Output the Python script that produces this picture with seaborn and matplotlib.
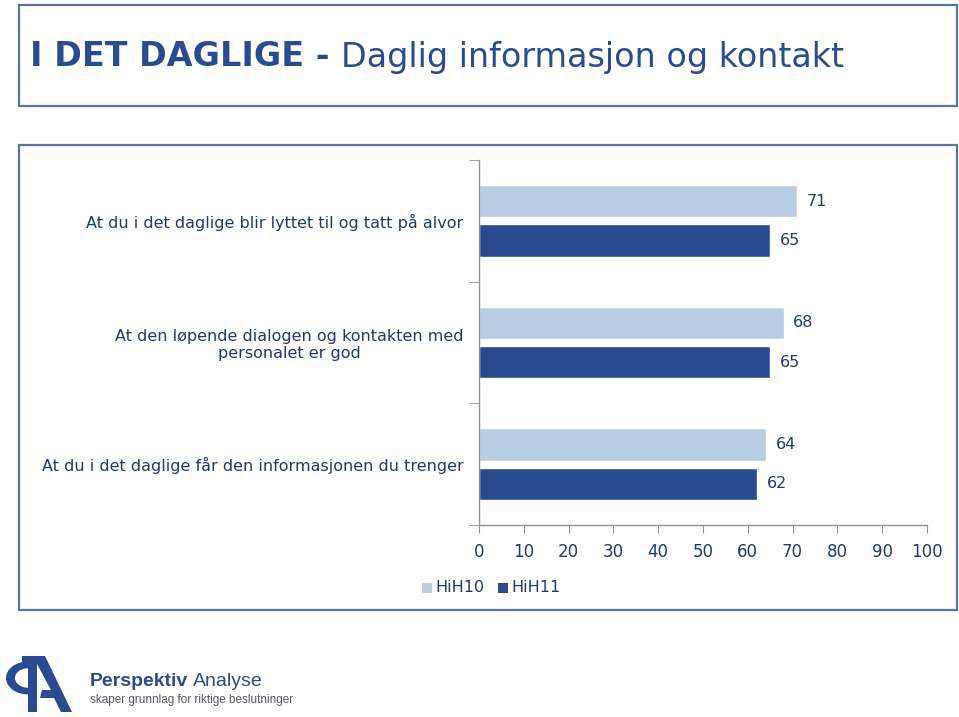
import matplotlib
matplotlib.use("Agg")
import matplotlib.pyplot as plt
import seaborn as sns
import pandas as pd
from matplotlib.patches import Rectangle, Polygon, Wedge

# data
questions = [
    "At du i det daglige blir lyttet til og tatt på alvor",
    "At den løpende dialogen og kontakten med\npersonalet er god",
    "At du i det daglige får den informasjonen du trenger",
]
hih10 = [71, 68, 64]
hih11 = [65, 65, 62]
series = ["HiH10", "HiH11"]
xticks = [0, 10, 20, 30, 40, 50, 60, 70, 80, 90, 100]

df = pd.DataFrame({
    "spm": questions * 2,
    "verdi": hih10 + hih11,
    "serie": [series[0]] * 3 + [series[1]] * 3,
})

light = "#B9CDE5"
dark = "#2A4B8F"
navy = "#1F3A6E"
border = "#5B74A3"
grey = "#8A939E"

sns.set_style("white")
plt.rcParams["font.family"] = ["DejaVu Sans"]

fig = plt.figure(figsize=(9.59, 7.17), dpi=100)
W, H = 959, 717

def fx(x):
    return x / W

def fy(y):
    return 1 - y / H

def box(x0, y0, x1, y1):
    fig.patches.append(Rectangle((fx(x0), fy(y1)), (x1 - x0) / W, (y1 - y0) / H,
                                 transform=fig.transFigure, fill=False,
                                 edgecolor=border, lw=1.6))

box(19, 5, 957, 106)
box(19, 145, 957, 610)

# title
t1 = fig.text(fx(30), fy(57), "I DET DAGLIGE - ", fontsize=24, fontweight="bold",
              color=dark, va="center", ha="left")
fig.canvas.draw()
bb = t1.get_window_extent()
fig.text(bb.x1 / W, fy(57), "Daglig informasjon og kontakt", fontsize=24,
         color=dark, va="center", ha="left")

ax = fig.add_axes([fx(479), fy(525), 448 / W, 365 / H])
sns.barplot(data=df, y="spm", x="verdi", hue="serie", orient="h",
            palette=[light, dark], width=0.65, gap=0.18, ax=ax,
            legend=False, saturation=1)

for cont in ax.containers:
    ax.bar_label(cont, padding=7, fontsize=11.5, color=navy)

ax.set_xlim(0, 100)
ax.set_ylim(2.5, -0.5)
ax.set_xticks(xticks)
ax.set_xlabel("")
ax.set_ylabel("")
ax.set_yticks([-0.5, 0.5, 1.5, 2.5], minor=True)
ax.tick_params(axis="y", which="major", length=0, pad=11, labelsize=11.5, labelcolor=navy)
ax.tick_params(axis="y", which="minor", length=7, color=grey, direction="out", left=True)
ax.tick_params(axis="x", length=6, color=grey, direction="out", bottom=True,
               pad=7, labelsize=12, labelcolor=navy)
for lab in ax.get_yticklabels():
    lab.set_multialignment("center")
for s in ["top", "right"]:
    ax.spines[s].set_visible(False)
for s in ["left", "bottom"]:
    ax.spines[s].set_color(grey)
    ax.spines[s].set_linewidth(1)

# legend
fig.patches.append(Rectangle((fx(422), fy(593)), 10 / W, 10 / H, transform=fig.transFigure,
                             facecolor=light, edgecolor="none"))
fig.text(fx(435), fy(588), series[0], fontsize=11.5, color=navy, va="center")
fig.patches.append(Rectangle((fx(498), fy(593)), 10 / W, 10 / H, transform=fig.transFigure,
                             facecolor=dark, edgecolor="none"))
fig.text(fx(511), fy(588), series[1], fontsize=11.5, color=navy, va="center")

# logo
logo = "#2A4B8F"
fig.patches.append(Wedge((fx(28), fy(678)), 22 / W, 90, 270, width=9 / W,
                         transform=fig.transFigure, facecolor=logo, edgecolor="none"))
fig.patches.append(Rectangle((fx(28), fy(712)), 9 / W, 56 / H, transform=fig.transFigure,
                             facecolor=logo, edgecolor="none"))
fig.patches.append(Rectangle((fx(22), fy(665)), 12 / W, 9 / H, transform=fig.transFigure,
                             facecolor=logo, edgecolor="none"))
fig.patches.append(Polygon([(fx(37), fy(656)), (fx(45), fy(656)), (fx(72), fy(712)),
                            (fx(61), fy(712)), (fx(54), fy(698)), (fx(40), fy(698)),
                            (fx(42), fy(690)), (fx(51), fy(690)), (fx(37), fy(664))],
                           closed=True, transform=fig.transFigure,
                           facecolor=logo, edgecolor="none"))
p1 = fig.text(fx(90), fy(682), "Perspektiv", fontsize=14, fontweight="bold", color=logo,
              va="center", family="Liberation Sans")
fig.canvas.draw()
pb = p1.get_window_extent()
fig.text((pb.x1 + 5) / W, fy(682), "Analyse", fontsize=14, color=logo, va="center",
         family="Liberation Sans")
fig.text(fx(90), fy(700), "skaper grunnlag for riktige beslutninger", fontsize=8.5,
         color="#556", va="center", family="Liberation Sans")

fig.savefig("out.png", dpi=100, facecolor="white")
